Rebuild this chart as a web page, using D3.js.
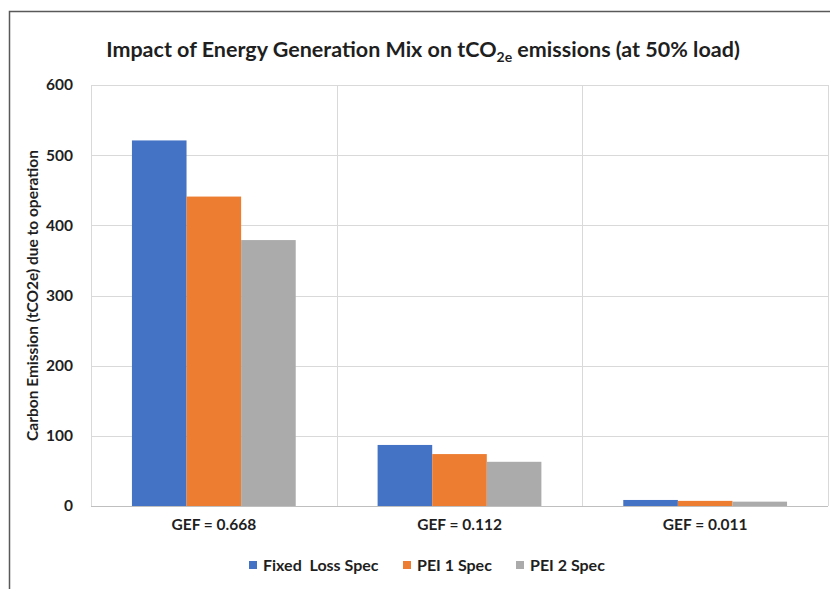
<!DOCTYPE html>
<html>
<head>
<meta charset="utf-8">
<title>Impact of Energy Generation Mix on tCO2e emissions</title>
<style>
body { margin: 0; background: #fff; }
svg text { font-family: Lato, "Open Sans", sans-serif; font-weight: bold; fill: #1f1f1f; }
</style>
</head>
<body>
<svg id="chart" width="830" height="589"></svg>
<script src="https://d3js.org/d3.v7.min.js"></script>
<script>
// data
var categories = ["GEF = 0.668", "GEF = 0.112", "GEF = 0.011"];
var seriesNames = ["Fixed  Loss Spec", "PEI 1 Spec", "PEI 2 Spec"];
var fixedLoss = [521, 87, 8.6];
var pei1 = [441, 74, 7.3];
var pei2 = [379, 63, 6.2];
var yTicks = [0, 100, 200, 300, 400, 500, 600];

var colors = ["#4472c4", "#ed7d31", "#ababab"];
var seriesValues = [fixedLoss, pei1, pei2];

var svg = d3.select("#chart");
var width = 830, height = 589;
var margin = {top: 85, right: 2, bottom: 83, left: 91};

// outer frame (only top and left edges are visible in the crop)
svg.append("path")
    .attr("d", "M9.5," + height + "V11.5H" + width)
    .style("fill", "none")
    .style("stroke", "#595959")
    .style("stroke-width", 1.5);

var x0 = d3.scaleBand()
    .domain(categories)
    .range([margin.left, width - margin.right])
    .paddingInner(0)
    .paddingOuter(0);

var x1 = d3.scaleBand()
    .domain(seriesNames)
    .range([0, x0.bandwidth()])
    .paddingOuter(0.75)  // ~150% gap width like excel
    .paddingInner(0);

var y = d3.scaleLinear()
    .domain([0, 600])
    .range([height - margin.bottom, margin.top]);

// horizontal gridlines
svg.append("g")
    .selectAll("line")
    .data(yTicks)
    .enter()
    .append("line")
    .attr("x1", margin.left)
    .attr("x2", width - margin.right)
    .attr("y1", d => Math.round(y(d)) + 0.5)
    .attr("y2", d => Math.round(y(d)) + 0.5)
    .style("stroke", d => d === 0 ? "#bfbfbf" : "#d9d9d9")
    .style("stroke-width", 1);

// vertical gridlines at category boundaries
var vx = categories.map(c => x0(c)).concat([width - margin.right]);
svg.append("g")
    .selectAll("line")
    .data(vx)
    .enter()
    .append("line")
    .attr("x1", d => Math.round(d) + 0.5)
    .attr("x2", d => Math.round(d) + 0.5)
    .attr("y1", y(600))
    .attr("y2", y(0))
    .style("stroke", "#d9d9d9");

// bars
var groups = svg.append("g")
    .selectAll("g")
    .data(categories)
    .enter()
    .append("g")
    .attr("transform", d => "translate(" + x0(d) + ",0)");

groups.selectAll("rect")
    .data((c, i) => seriesNames.map((s, j) => ({series: s, j: j, value: seriesValues[j][i]})))
    .enter()
    .append("rect")
    .attr("x", d => x1(d.series))
    .attr("width", x1.bandwidth())
    .attr("y", d => y(d.value))
    .attr("height", d => y(0) - y(d.value))
    .style("fill", d => colors[d.j]);

// y axis tick labels
var yAxis = d3.axisLeft(y)
    .tickValues(yTicks)
    .tickSize(0)
    .tickPadding(18);
var gy = svg.append("g")
    .attr("transform", "translate(" + margin.left + ",0)")
    .call(yAxis);
gy.select(".domain").remove();
gy.selectAll("text")
    .style("font-size", "15.5px")
    .style("font-family", "Lato, sans-serif")
    .style("font-weight", "bold")
    .attr("fill", "#1f1f1f");

// x axis category labels
var xAxis = d3.axisBottom(x0).tickSize(0).tickPadding(13);
var gx = svg.append("g")
    .attr("transform", "translate(0," + y(0) + ")")
    .call(xAxis);
gx.select(".domain").remove();
gx.selectAll("text")
    .style("font-size", "15.5px")
    .style("font-family", "Lato, sans-serif")
    .style("font-weight", "bold")
    .attr("fill", "#1f1f1f");

// y axis title
svg.append("text")
    .attr("transform", "translate(38," + ((y(0) + y(600)) / 2) + ") rotate(-90)")
    .attr("text-anchor", "middle")
    .style("font-size", "15.5px")
    .text("Carbon Emission (tCO2e) due to operation");

// chart title with subscript
var title = svg.append("text")
    .attr("x", 423)
    .attr("y", 57)
    .attr("text-anchor", "middle")
    .style("font-size", "21.5px");
title.append("tspan").text("Impact of Energy Generation Mix on tCO");
title.append("tspan").attr("dy", 5).style("font-size", "14px").text("2e");
title.append("tspan").attr("dy", -5).text(" emissions (at 50% load)");

// legend
var legendItems = [
    {name: seriesNames[0], x: 249},
    {name: seriesNames[1], x: 403},
    {name: seriesNames[2], x: 516}
];
var legend = svg.append("g")
    .selectAll("g")
    .data(legendItems)
    .enter()
    .append("g")
    .attr("transform", d => "translate(" + d.x + ",561)");
legend.append("rect")
    .attr("width", 8)
    .attr("height", 8)
    .style("fill", (d, i) => colors[i]);
legend.append("text")
    .attr("x", 14)
    .attr("y", 9.5)
    .style("font-size", "16px")
    .style("white-space", "pre")
    .attr("xml:space", "preserve")
    .text(d => d.name);
</script>
</body>
</html>
